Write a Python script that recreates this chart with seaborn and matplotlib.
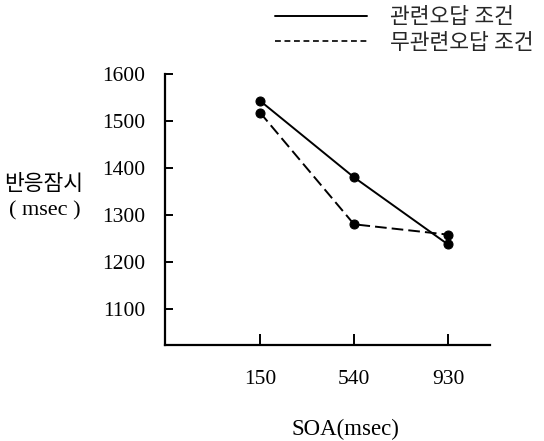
import matplotlib
matplotlib.use("Agg")
import matplotlib.pyplot as plt
from matplotlib.lines import Line2D
import seaborn as sns
import pandas as pd

soa = [150, 540, 930]
related = [1543, 1380, 1237]
unrelated = [1518, 1280, 1258]
y_ticks = [1100, 1200, 1300, 1400, 1500, 1600]
series_names = ["관련오답 조건", "무관련오답 조건"]

sns.set_style("ticks")
plt.rcParams['font.family'] = ['Liberation Serif', 'Noto Sans CJK KR', 'DejaVu Sans']

fig = plt.figure(figsize=(5.44, 4.41), dpi=100)
ax = fig.add_axes([165/544, 96/441, 325/544, 271/441])

df = pd.DataFrame({"soa": soa + soa,
                   "rt": related + unrelated,
                   "cond": [series_names[0]]*3 + [series_names[1]]*3})

sns.lineplot(data=df[df.cond == series_names[0]], x="soa", y="rt", ax=ax,
             color="black", marker="o", markersize=6.5, linewidth=1.4,
             markeredgecolor="black", legend=False)
sns.lineplot(data=df[df.cond == series_names[1]], x="soa", y="rt", ax=ax,
             color="black", marker="o", markersize=6.5, linewidth=1.4,
             linestyle=(0, (6, 2.6)), markeredgecolor="black", legend=False)

ax.set_xlim(-244, 1104)
ax.set_ylim(1023, 1600)
ax.set_xticks(soa)
ax.set_xticklabels([str(s) for s in soa])
ax.set_yticks(y_ticks)
ax.set_yticklabels([str(t) for t in y_ticks])

for s in ["top", "right"]:
    ax.spines[s].set_visible(False)
for s in ["left", "bottom"]:
    ax.spines[s].set_color("black")
    ax.spines[s].set_linewidth(1.6)

ax.tick_params(axis="x", direction="in", length=8, width=1.4, pad=18,
               labelsize=15.5, colors="black", bottom=True)
ax.tick_params(axis="y", direction="in", length=6, width=1.4, pad=14,
               labelsize=15.5, colors="black", left=True)

ax.set_xlabel("SOA(msec)", fontsize=16.5, color="black")
ax.xaxis.set_label_coords(0.554, -0.31)
ax.xaxis.label.set_va("center")

ax.set_ylabel("")
fig.text(44/544, 1 - 185/441, "반응잠시", ha="center", va="center",
         fontsize=15.5, color="black")
fig.text(45/544, 1 - 211/441, "( msec )", ha="center", va="center",
         fontsize=16, color="black")

handles = [Line2D([], [], color="black", linewidth=1.4),
           Line2D([], [], color="black", linewidth=1.2, linestyle=(0, (3.5, 2.2)))]
fig.legend(handles, series_names, loc="upper left",
           bbox_to_anchor=(275/544, 1 - 8/441), frameon=False,
           fontsize=15.5, handlelength=4.28, handletextpad=1.07,
           borderpad=0, borderaxespad=0, labelspacing=0.25)

fig.savefig("out.png", dpi=100)
